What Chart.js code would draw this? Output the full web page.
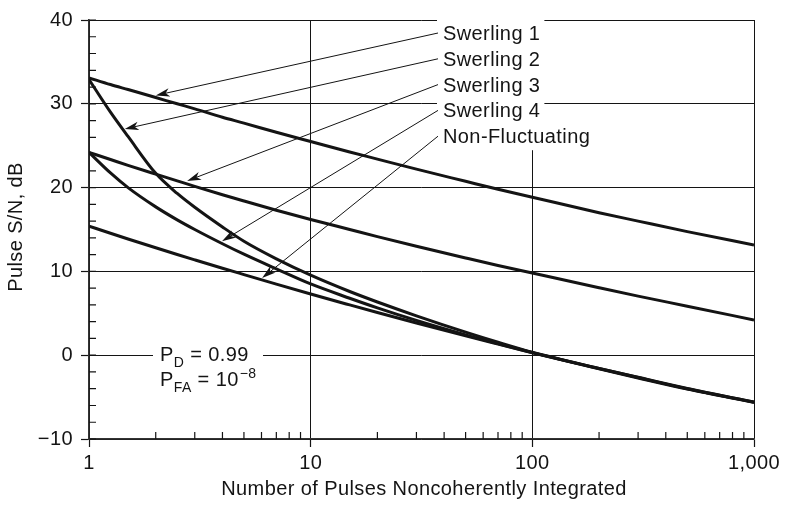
<!DOCTYPE html>
<html><head><meta charset="utf-8">
<script src="https://cdn.jsdelivr.net/npm/chart.js@4.4.1/dist/chart.umd.min.js"></script>
<style>html,body{margin:0;padding:0;background:#fff}canvas{display:block}</style>
</head><body>
<canvas id="c" width="788" height="509"></canvas>
<script>
// ---- data ----
const pulses = [1, 1.25, 1.5, 2, 2.5, 3, 4, 5, 7, 10, 15, 20, 30, 50, 70, 100, 200, 300, 500, 1000];
const swerling1 = [33.1, 32.3, 31.7, 30.75, 30.0, 29.4, 28.4, 27.7, 26.6, 25.5, 24.25, 23.4, 22.2, 20.75, 19.8, 18.85, 17.0, 16.0, 14.75, 13.15];
const swerling2 = [32.9, 29.0, 26.1, 21.7, 19.3, 17.65, 15.3, 13.6, 11.5, 9.55, 7.6, 6.35, 4.7, 2.75, 1.55, 0.35, -1.57, -2.64, -3.97, -5.6];
const swerling3 = [24.2, 23.35, 22.65, 21.6, 20.8, 20.15, 19.15, 18.4, 17.3, 16.2, 15.0, 14.15, 13.0, 11.6, 10.7, 9.8, 8.05, 7.05, 5.85, 4.2];
const swerling4 = [24.2, 21.75, 20.0, 17.7, 16.15, 15.0, 13.3, 12.05, 10.3, 8.5, 6.8, 5.65, 4.15, 2.43, 1.38, 0.31, -1.59, -2.66, -4.0, -5.6];
const nonFluctuating = [15.4, 14.55, 13.87, 12.82, 12.02, 11.38, 10.38, 9.62, 8.48, 7.3, 6.0, 5.09, 3.84, 2.31, 1.33, 0.3, -1.63, -2.72, -4.05, -5.65];
const seriesNames = ['Swerling 1', 'Swerling 2', 'Swerling 3', 'Swerling 4', 'Non-Fluctuating'];
const xTickValues = [1, 10, 100, 1000];
const yTickValues = [-10, 0, 10, 20, 30, 40];
// where each label's arrow touches its curve (pulses, dB)
const arrowPulses = [2.0, 1.45, 2.77, 3.98, 6.04];
const arrowSNR = [31.0, 27.0, 20.8, 13.6, 9.2];
const pdText = ['P', 'D', ' = 0.99'];
const pfaText = ['P', 'FA', ' = 10', '\u22128'];
const xTitle = 'Number of Pulses Noncoherently Integrated';
const yTitle = 'Pulse S/N, dB';

// ---- chart ----
const FONT = "'Liberation Sans', Arial, Helvetica, sans-serif";
const INK = '#141414';
const SPACING = '0.4px';
const allSeries = [swerling1, swerling2, swerling3, swerling4, nonFluctuating];
const datasets = allSeries.map((arr, k) => ({
  label: seriesNames[k],
  data: pulses.map((n, i) => ({x: n, y: arr[i]})),
  borderColor: INK, borderWidth: 3, pointRadius: 0, fill: false,
  cubicInterpolationMode: 'monotone'
}));

const LABEL_X = 443, LABEL_Y0 = 33, LABEL_DY = 25.8, LABEL_SIZE = 20;

const annot = {
  id: 'annot',
  beforeDraw(chart) { chart.ctx.letterSpacing = SPACING; },
  beforeDatasetsDraw(chart) {
    const {ctx, chartArea: a, scales: {x, y}} = chart;
    ctx.save();
    ctx.strokeStyle = INK; ctx.lineWidth = 1.2;
    ctx.beginPath();
    for (let v = -10; v <= 40; v += 2) {
      const py = y.getPixelForValue(v);
      ctx.moveTo(a.left, py); ctx.lineTo(a.left + 7, py);
    }
    for (const d of [1, 10, 100]) {
      for (let m = 2; m <= 9; m++) {
        const px = x.getPixelForValue(d * m);
        ctx.moveTo(px, a.bottom); ctx.lineTo(px, a.bottom - 7);
      }
    }
    ctx.stroke();
    // white backgrounds for label text
    ctx.fillStyle = '#fff';
    ctx.font = LABEL_SIZE + 'px ' + FONT;
    seriesNames.forEach((s, k) => {
      const cy = LABEL_Y0 + k * LABEL_DY;
      const w = ctx.measureText(s).width;
      ctx.fillRect(LABEL_X - 6, cy - 15, w + 10, 29);
    });
    ctx.fillRect(153, 342, 110, 50);
    ctx.restore();
  },
  afterDatasetsDraw(chart) {
    const {ctx, chartArea: a, scales: {x, y}} = chart;
    ctx.save();
    ctx.letterSpacing = SPACING;
    ctx.fillStyle = INK; ctx.strokeStyle = INK;
    ctx.font = LABEL_SIZE + 'px ' + FONT;
    ctx.textBaseline = 'alphabetic'; ctx.textAlign = 'left';
    seriesNames.forEach((s, k) => {
      const cy = LABEL_Y0 + k * LABEL_DY;
      ctx.fillText(s, LABEL_X, cy + 7);
      // leader + arrow
      const sx = LABEL_X - 5, sy = cy;
      const tx = x.getPixelForValue(arrowPulses[k]), ty = y.getPixelForValue(arrowSNR[k]);
      const dx = tx - sx, dy = ty - sy, len = Math.hypot(dx, dy);
      const ux = dx / len, uy = dy / len, nx = -uy, ny = ux;
      const L = 14, W = 4.2;
      ctx.lineWidth = 1;
      ctx.beginPath(); ctx.moveTo(sx, sy); ctx.lineTo(tx - ux * L * 0.7, ty - uy * L * 0.7); ctx.stroke();
      ctx.beginPath();
      ctx.moveTo(tx, ty);
      ctx.lineTo(tx - ux * L + nx * W, ty - uy * L + ny * W);
      ctx.lineTo(tx - ux * L * 0.72, ty - uy * L * 0.72);
      ctx.lineTo(tx - ux * L - nx * W, ty - uy * L - ny * W);
      ctx.closePath(); ctx.fill();
    });
    // P_D / P_FA
    const big = LABEL_SIZE + 'px ' + FONT, small = '14px ' + FONT;
    let px = 160;
    ctx.font = big; ctx.fillText(pdText[0], px, 361); px += ctx.measureText(pdText[0]).width;
    ctx.font = small; ctx.fillText(pdText[1], px, 367); px += ctx.measureText(pdText[1]).width;
    ctx.font = big; ctx.fillText(pdText[2], px, 361);
    px = 160;
    ctx.font = big; ctx.fillText(pfaText[0], px, 386); px += ctx.measureText(pfaText[0]).width;
    ctx.font = small; ctx.fillText(pfaText[1], px, 392); px += ctx.measureText(pfaText[1]).width;
    ctx.font = big; ctx.fillText(pfaText[2], px, 386); px += ctx.measureText(pfaText[2]).width;
    ctx.font = small; ctx.fillText(pfaText[3], px + 1, 378);
    // axis titles
    ctx.font = big; ctx.textAlign = 'center';
    ctx.fillText(xTitle, 424, 495);
    ctx.translate(22, 227); ctx.rotate(-Math.PI / 2);
    ctx.fillText(yTitle, 0, 0);
    ctx.restore();
  }
};

new Chart(document.getElementById('c').getContext('2d'), {
  type: 'line',
  data: {datasets},
  options: {
    responsive: false, animation: false, devicePixelRatio: 1, events: [],
    layout: {padding: {top: 15, right: 34, left: 0, bottom: 0}},
    plugins: {legend: {display: false}, tooltip: {enabled: false}},
    scales: {
      x: {
        type: 'logarithmic', min: 1, max: 1000,
        afterBuildTicks: s => { s.ticks = xTickValues.map(v => ({value: v})); },
        afterFit: s => { s.height = 70; },
        ticks: {autoSkip: false, maxRotation: 0, color: INK, padding: 4,
          font: {family: FONT, size: LABEL_SIZE},
          callback: v => Number(v).toLocaleString('en-US')},
        grid: {color: INK, lineWidth: 1, tickLength: 8, tickColor: INK, tickWidth: 1.2},
        border: {display: true, color: '#333', width: 1.5}
      },
      y: {
        type: 'linear', min: -10, max: 40,
        afterBuildTicks: s => { s.ticks = yTickValues.map(v => ({value: v})); },
        afterFit: s => { s.width = 89; },
        ticks: {color: INK, padding: 8, font: {family: FONT, size: LABEL_SIZE},
          callback: v => v < 0 ? '\u2212' + Math.abs(v) : String(v)},
        grid: {color: INK, lineWidth: 1, tickLength: 8, tickColor: INK, tickWidth: 1.2},
        border: {display: true, color: '#333', width: 1.5}
      }
    }
  },
  plugins: [annot]
});
</script>
</body></html>
